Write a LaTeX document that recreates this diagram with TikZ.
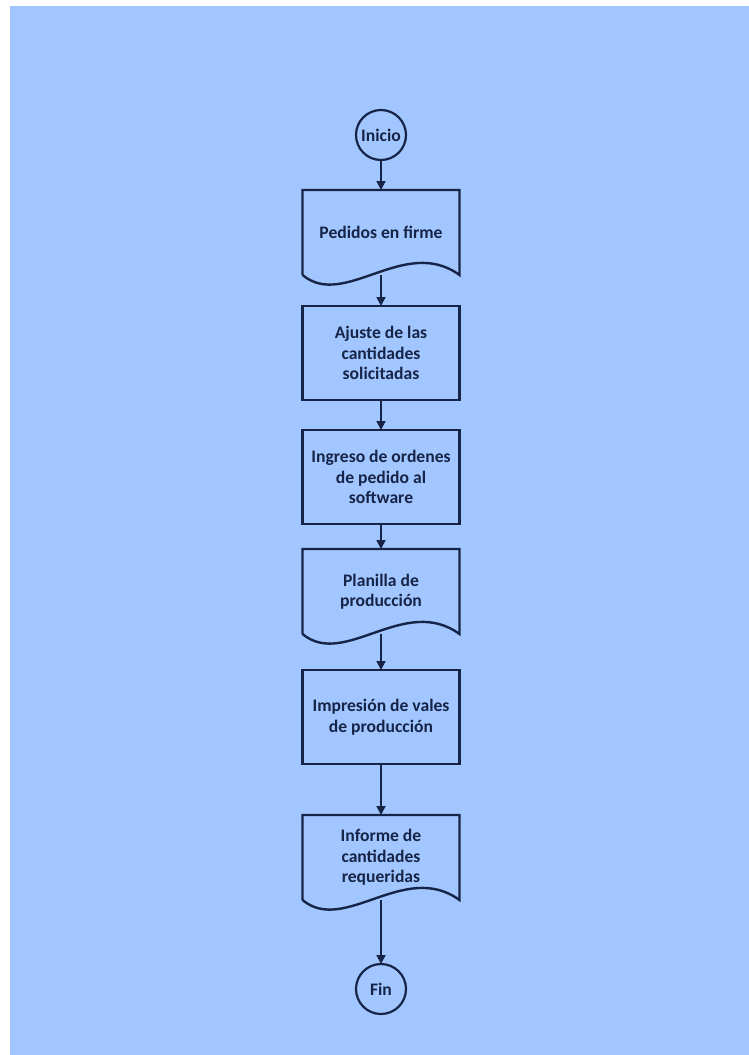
\documentclass[tikz,border=0pt]{standalone}
\usepackage{fontspec}
\setmainfont{Carlito}
\usepackage{tikz}
\definecolor{sky}{RGB}{162,198,255}
\definecolor{navy}{RGB}{22,36,72}
\usetikzlibrary{shapes.geometric, arrows.meta, positioning}
\tikzstyle{startstop} = [circle, minimum size=50pt, inner sep=0pt, outer sep=0pt, draw=navy, line width=2.2pt, text=navy, font=\fontsize{17.6}{20.5}\selectfont\bfseries]
\tikzstyle{process} = [rectangle, minimum width=157pt, minimum height=94pt, outer sep=0pt, align=center, draw=navy, line width=2.4pt, text=navy, font=\fontsize{17.6}{20.5}\selectfont\bfseries]
\tikzstyle{doc} = [rectangle, minimum width=157pt, minimum height=85pt, outer sep=0pt, align=center, text=navy, font=\fontsize{17.6}{20.5}\selectfont\bfseries]
\tikzstyle{outline} = [line width=2.4pt, draw=navy]
\tikzstyle{arrow} = [line width=1.8pt, -{Triangle[length=9pt, width=9pt]}, draw=navy]
\newcommand{\docoutline}[1]{\draw [outline] (#1.south west) -- (#1.north west) -- (#1.north east) -- (#1.south east) .. controls +(-55pt,40pt) and +(42pt,-35pt) .. (#1.south west);}

\begin{document}
\begin{tikzpicture}[x=1pt, y=1pt]
        \useasboundingbox (0,0) rectangle (748,-1055);
        \fill [sky] (10,-6) rectangle (760,-1070);

        \node (node0) [startstop] at (381,-135) {Inicio};
        \node (node1) [doc, below=30pt of node0] {Pedidos en firme};
        \docoutline{node1}
        \node (node2) [process, below=31pt of node1] {Ajuste de las\\cantidades\\solicitadas};
        \node (node3) [process, below=30pt of node2] {Ingreso de ordenes\\de pedido al\\software};
        \node (node4) [doc, below=25pt of node3] {Planilla de\\producción};
        \docoutline{node4}
        \node (node5) [process, below=36pt of node4] {Impresión de vales\\de producción};
        \node (node6) [doc, below=51pt of node5] {Informe de\\cantidades\\requeridas};
        \docoutline{node6}
        \node (node7) [startstop, below=64pt of node6] {Fin};

        \draw [arrow] (node0) -- (node1);
        \draw [arrow] (node1) -- (node2);
        \draw [arrow] (node2) -- (node3);
        \draw [arrow] (node3) -- (node4);
        \draw [arrow] (node4) -- (node5);
        \draw [arrow] (node5) -- (node6);
        \draw [arrow] (node6) -- (node7);
    \end{tikzpicture}
\end{document}
